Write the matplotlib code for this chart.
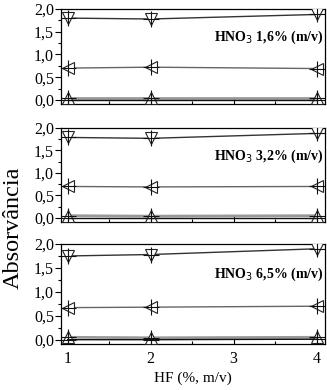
import matplotlib
matplotlib.use("Agg")
import matplotlib.pyplot as plt
from matplotlib.ticker import MultipleLocator, FixedLocator

plt.rcParams['font.family'] = ['Liberation Serif', 'DejaVu Serif']

hf = [1, 2, 4]
panel_labels = ["HNO$_3$ 1,6% (m/v)", "HNO$_3$ 3,2% (m/v)", "HNO$_3$ 6,5% (m/v)"]

# series per panel
s_down = [[1.80, 1.78, 1.88], [1.79, 1.77, 1.88], [1.75, 1.78, 1.90]]
s_left = [[0.70, 0.72, 0.69], [0.70, 0.69, 0.70], [0.67, 0.68, 0.70]]
s_up = [[0.05, 0.05, 0.05], [0.05, 0.04, 0.05], [0.05, 0.04, 0.05]]
s_plus = [[0.00, 0.00, 0.00], [0.00, 0.00, 0.00], [0.00, 0.00, 0.01]]

fig = plt.figure(figsize=(3.27, 3.9), dpi=100)
W, H = 327, 390
tops = [9, 128, 244]
bottoms = [104, 222, 344]
left, right = 61, 325

for i in range(3):
    ax = fig.add_axes([left / W, 1 - bottoms[i] / H, (right - left) / W, (bottoms[i] - tops[i]) / H])
    mk = dict(markerfacecolor='white', markeredgecolor='#222222', markersize=9, markeredgewidth=0.8)
    ax.plot(hf, s_down[i], color='#333333', lw=1.0, marker='v', **mk, zorder=3)
    ax.plot(hf, s_left[i], color='#666666', lw=1.0, marker='<', **mk, zorder=3)
    ax.plot(hf, s_up[i], color='#999999', lw=2.0, marker='^', **mk, zorder=3)
    ax.plot(hf, s_plus[i], color='#111111', lw=1.0, zorder=3)
    for ser in (s_down[i], s_left[i], s_up[i], s_plus[i]):
        ax.plot(hf, ser, ls='none', marker='+', color='#111111', markersize=12, markeredgewidth=0.8, zorder=4)
    ax.set_xlim(0.92, 4.1)
    ax.set_ylim(-0.09, 2.0)
    ax.yaxis.set_minor_locator(MultipleLocator(0.25))
    ax.set_yticks([0, 0.5, 1.0, 1.5, 2.0])
    ax.set_yticklabels(['0,0', '0,5', '1,0', '1,5', '2,0'], fontsize=11.5)
    ax.xaxis.set_major_locator(FixedLocator([1, 2, 3, 4]))
    ax.xaxis.set_minor_locator(FixedLocator([1.5, 2.5, 3.5]))
    ax.tick_params(axis='y', which='major', direction='out', length=4, width=0.8, pad=1)
    ax.tick_params(axis='y', which='minor', direction='out', length=2, width=0.8)
    ax.tick_params(axis='x', which='major', direction='in', length=4, width=0.8, pad=5)
    ax.tick_params(axis='x', which='minor', direction='in', length=2, width=0.8)
    for sp in ax.spines.values():
        sp.set_linewidth(0.9)
    if i < 2:
        ax.set_xticklabels([])
    else:
        ax.set_xticklabels(['1', '2', '3', '4'], fontsize=11.5)
        ax.set_xlabel('HF (%, m/v)', fontsize=11, labelpad=3)
    ax.text(0.995, 0.70, panel_labels[i], transform=ax.transAxes, ha='right', va='center',
            fontsize=10, fontweight='bold')

fig.text(3 / W, 1 - 228 / H, 'Absorvância', rotation=90, ha='left', va='center', fontsize=17.5)

fig.savefig('out.png', dpi=100)
